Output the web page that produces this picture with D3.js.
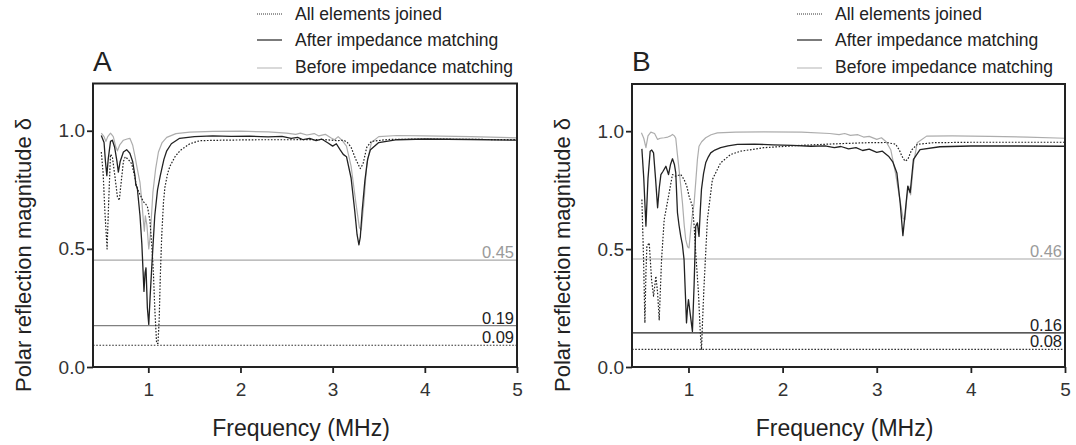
<!DOCTYPE html>
<html><head><meta charset="utf-8">
<script src="https://cdn.jsdelivr.net/npm/d3@7"></script>
<style>
html,body{margin:0;padding:0;background:#fff;}
svg{display:block;font-family:"Liberation Sans",Arial,Helvetica,sans-serif;}
</style></head>
<body><svg id="chart" width="1076" height="445"></svg>
<script>
// ---------- DATA ----------
const xTicks = [1, 2, 3, 4, 5];
const yTicks = [0, 0.5, 1.0];
const legendLabels = ["All elements joined", "After impedance matching", "Before impedance matching"];
const panelLetters = ["A", "B"];
const xTitle = "Frequency (MHz)";
const yTitle = "Polar reflection magnitude δ";

// Panel A series: [frequency MHz, magnitude]
const A_before = [[0.49,0.99],[0.52,0.975],[0.54,0.955],[0.56,0.975],[0.59,0.99],[0.62,0.975],[0.645,0.935],[0.665,0.915],[0.69,0.94],[0.73,0.96],[0.77,0.965],[0.80,0.968],[0.83,0.94],[0.856,0.89],[0.88,0.84],[0.91,0.78],[0.93,0.70],[0.946,0.62],[0.957,0.575],[0.968,0.64],[0.985,0.60],[1.005,0.50],[1.02,0.55],[1.05,0.74],[1.08,0.84],[1.11,0.91],[1.15,0.95],[1.2,0.972],[1.3,0.988],[1.45,0.994],[1.7,0.997],[2.0,0.998],[2.3,0.995],[2.5,0.99],[2.6,0.985],[2.65,0.99],[2.72,0.982],[2.8,0.988],[2.85,0.978],[2.92,0.985],[2.98,0.97],[3.02,0.962],[3.06,0.975],[3.1,0.96],[3.15,0.935],[3.2,0.85],[3.25,0.70],[3.29,0.59],[3.31,0.58],[3.34,0.70],[3.37,0.86],[3.42,0.95],[3.5,0.975],[3.7,0.98],[4.0,0.978],[4.5,0.975],[5.0,0.97]];
const A_after = [[0.49,0.98],[0.52,0.95],[0.535,0.87],[0.55,0.81],[0.565,0.88],[0.59,0.955],[0.61,0.96],[0.635,0.93],[0.66,0.87],[0.675,0.825],[0.695,0.87],[0.73,0.91],[0.765,0.92],[0.80,0.905],[0.83,0.87],[0.855,0.81],[0.865,0.77],[0.88,0.76],[0.91,0.64],[0.93,0.52],[0.953,0.32],[0.965,0.40],[0.975,0.42],[0.99,0.25],[1.005,0.18],[1.02,0.30],[1.04,0.44],[1.07,0.64],[1.10,0.75],[1.13,0.81],[1.17,0.88],[1.2,0.915],[1.25,0.945],[1.34,0.968],[1.5,0.975],[1.7,0.978],[1.9,0.976],[2.1,0.977],[2.3,0.974],[2.45,0.976],[2.55,0.968],[2.62,0.972],[2.68,0.962],[2.75,0.968],[2.82,0.958],[2.88,0.965],[2.95,0.948],[3.0,0.935],[3.04,0.945],[3.08,0.92],[3.115,0.90],[3.15,0.89],[3.2,0.80],[3.24,0.66],[3.265,0.56],[3.285,0.517],[3.30,0.55],[3.32,0.66],[3.35,0.79],[3.38,0.88],[3.41,0.92],[3.5,0.95],[3.7,0.962],[4.0,0.965],[4.5,0.963],[5.0,0.96]];
const A_joined = [[0.49,0.91],[0.51,0.82],[0.53,0.65],[0.553,0.50],[0.57,0.70],[0.59,0.90],[0.61,0.89],[0.64,0.80],[0.665,0.72],[0.685,0.705],[0.705,0.78],[0.73,0.87],[0.75,0.89],[0.78,0.88],[0.82,0.86],[0.85,0.81],[0.875,0.76],[0.91,0.73],[0.946,0.70],[0.97,0.69],[0.99,0.68],[1.018,0.62],[1.04,0.50],[1.054,0.41],[1.07,0.25],[1.09,0.10],[1.105,0.10],[1.118,0.20],[1.13,0.38],[1.145,0.55],[1.165,0.70],[1.18,0.76],[1.21,0.82],[1.235,0.85],[1.29,0.89],[1.344,0.916],[1.45,0.945],[1.56,0.958],[1.8,0.96],[2.2,0.962],[2.6,0.962],[2.9,0.963],[3.05,0.958],[3.12,0.96],[3.16,0.95],[3.2,0.93],[3.25,0.88],[3.30,0.84],[3.33,0.86],[3.37,0.93],[3.42,0.955],[3.6,0.963],[4.0,0.965],[5.0,0.962]];
// Panel A reference lines: drawn position, label text
const A_refValues = [0.452, 0.175, 0.092];
const A_refLabels = ["0.45", "0.19", "0.09"];

// Panel B series
const B_before = [[0.50,0.993],[0.525,0.97],[0.548,0.93],[0.57,0.98],[0.60,0.996],[0.64,0.99],[0.672,0.965],[0.70,0.97],[0.743,0.972],[0.78,0.975],[0.81,0.98],[0.83,0.986],[0.85,0.98],[0.865,0.97],[0.88,0.91],[0.90,0.837],[0.92,0.76],[0.936,0.696],[0.955,0.60],[0.971,0.54],[0.99,0.51],[1.006,0.505],[1.024,0.583],[1.04,0.64],[1.06,0.696],[1.08,0.80],[1.095,0.88],[1.112,0.936],[1.14,0.955],[1.183,0.972],[1.24,0.985],[1.307,0.993],[1.5,0.996],[1.8,0.997],[2.2,0.996],[2.5,0.99],[2.6,0.985],[2.66,0.99],[2.72,0.982],[2.8,0.985],[2.86,0.975],[2.92,0.978],[3.0,0.965],[3.05,0.972],[3.1,0.955],[3.15,0.92],[3.2,0.82],[3.25,0.70],[3.28,0.63],[3.30,0.625],[3.32,0.72],[3.34,0.767],[3.36,0.73],[3.39,0.86],[3.43,0.951],[3.53,0.979],[3.8,0.98],[4.2,0.978],[4.6,0.975],[5.0,0.97]];
const B_after = [[0.505,0.925],[0.525,0.80],[0.548,0.597],[0.57,0.80],[0.593,0.915],[0.61,0.92],[0.629,0.908],[0.65,0.80],[0.672,0.675],[0.69,0.76],[0.707,0.816],[0.73,0.83],[0.76,0.851],[0.788,0.816],[0.81,0.86],[0.83,0.883],[0.85,0.86],[0.865,0.823],[0.883,0.654],[0.90,0.60],[0.918,0.554],[0.935,0.52],[0.953,0.455],[0.966,0.32],[0.979,0.187],[0.99,0.25],[1.0,0.286],[1.02,0.22],[1.042,0.151],[1.06,0.35],[1.077,0.597],[1.095,0.611],[1.112,0.554],[1.125,0.66],[1.138,0.753],[1.16,0.82],[1.183,0.866],[1.21,0.89],[1.236,0.908],[1.28,0.92],[1.342,0.93],[1.42,0.938],[1.52,0.944],[1.7,0.945],[1.9,0.942],[2.1,0.94],[2.3,0.936],[2.45,0.938],[2.55,0.93],[2.62,0.935],[2.7,0.925],[2.78,0.93],[2.85,0.918],[2.92,0.924],[3.0,0.91],[3.06,0.915],[3.125,0.894],[3.17,0.87],[3.214,0.823],[3.249,0.696],[3.278,0.557],[3.309,0.682],[3.33,0.767],[3.355,0.739],[3.39,0.88],[3.46,0.922],[3.67,0.934],[4.0,0.937],[4.5,0.937],[5.0,0.936]];
const B_joined = [[0.505,0.71],[0.523,0.455],[0.537,0.187],[0.548,0.40],[0.558,0.512],[0.583,0.526],[0.608,0.37],[0.629,0.30],[0.654,0.385],[0.672,0.314],[0.689,0.20],[0.714,0.455],[0.742,0.625],[0.795,0.739],[0.83,0.816],[0.865,0.809],[0.918,0.816],[0.953,0.795],[0.982,0.767],[1.006,0.724],[1.042,0.682],[1.06,0.60],[1.077,0.484],[1.106,0.314],[1.125,0.15],[1.138,0.073],[1.15,0.20],[1.165,0.342],[1.201,0.625],[1.254,0.795],[1.342,0.866],[1.448,0.901],[1.554,0.915],[1.8,0.93],[2.2,0.94],[2.6,0.947],[2.9,0.951],[3.1,0.952],[3.2,0.945],[3.24,0.92],[3.267,0.894],[3.30,0.873],[3.33,0.88],[3.37,0.92],[3.43,0.944],[3.6,0.951],[4.0,0.953],[5.0,0.953]];
const B_refValues = [0.458, 0.145, 0.075];
const B_refLabels = ["0.46", "0.16", "0.08"];

// ---------- STYLE ----------
const styles = {
  joined: {stroke: "#222", width: 1.2, dash: "1.6,1.6"},
  after:  {stroke: "#222", width: 1.3, dash: null},
  before: {stroke: "#adadad", width: 1.2, dash: null}
};
const refStyleA = [
  {stroke: "#a8a8a8", dash: null, text: "#9a9a9a"},
  {stroke: "#808080", dash: null, text: "#222"},
  {stroke: "#333", dash: "1.6,1.6", text: "#222"}
];
const refStyleB = [
  {stroke: "#a8a8a8", dash: null, text: "#9a9a9a"},
  {stroke: "#222", dash: null, text: "#222"},
  {stroke: "#333", dash: "1.6,1.6", text: "#222"}
];

const svg = d3.select("#chart");

function drawPanel(p) {
  const x = d3.scaleLinear().domain([0.4, 5]).range([p.left, p.right]);
  const y = d3.scaleLinear().domain([0, 1.2]).range([p.bottom, p.top]);
  const g = svg.append("g");
  const clipId = "clip" + p.letter;
  svg.append("defs").append("clipPath").attr("id", clipId)
    .append("rect").attr("x", p.left).attr("y", p.top)
    .attr("width", p.right - p.left).attr("height", p.bottom - p.top);

  // reference lines
  p.refValues.forEach((v, i) => {
    const st = p.refStyle[i];
    g.append("line").attr("x1", p.left).attr("x2", p.right)
      .attr("y1", y(v)).attr("y2", y(v))
      .attr("stroke", st.stroke).attr("stroke-width", 1.2)
      .attr("stroke-dasharray", st.dash);
    g.append("text").attr("x", p.right - 3).attr("y", y(v) - 2)
      .attr("text-anchor", "end").attr("font-size", 16.5)
      .attr("fill", st.text).text(p.refLabels[i]);
  });

  const line = d3.line().x(d => x(d[0])).y(d => y(d[1]));
  const cg = g.append("g").attr("clip-path", `url(#${clipId})`);
  [["before", p.before], ["joined", p.joined], ["after", p.after]].forEach(([k, data]) => {
    const st = styles[k];
    cg.append("path").datum(data).attr("d", line)
      .attr("fill", "none").attr("stroke", st.stroke)
      .attr("stroke-width", st.width).attr("stroke-dasharray", st.dash)
      .attr("stroke-linejoin", "round");
  });

  // axes
  const xa = g.append("g").attr("transform", `translate(0,${p.bottom})`)
    .call(d3.axisBottom(x).tickValues(xTicks).tickFormat(d3.format("d")).tickSize(6).tickPadding(10));
  const ya = g.append("g").attr("transform", `translate(${p.left},0)`)
    .call(d3.axisLeft(y).tickValues(yTicks).tickFormat(d3.format(".1f")).tickSize(6).tickPadding(2));
  [xa, ya].forEach(a => {
    a.select(".domain").remove();
    a.selectAll("line").attr("stroke", "#222").attr("stroke-width", 1.8);
    a.selectAll("text").attr("font-size", 19).attr("fill", "#333")
      .attr("font-family", "'Liberation Sans',Arial,sans-serif");
  });

  // frame
  g.append("rect").attr("x", p.left).attr("y", p.top)
    .attr("width", p.right - p.left).attr("height", p.bottom - p.top)
    .attr("fill", "none").attr("stroke", "#222").attr("stroke-width", 2);

  // titles
  g.append("text").attr("x", (p.left + p.right) / 2 - 4).attr("y", 436)
    .attr("text-anchor", "middle").attr("font-size", 23).attr("fill", "#222").text(xTitle);
  g.append("text").attr("transform", `translate(${p.left - 62},255) rotate(-90)`)
    .attr("text-anchor", "middle").attr("font-size", 22).attr("fill", "#222").text(yTitle);
  g.append("text").attr("x", p.left).attr("y", 71)
    .attr("font-size", 28).attr("fill", "#222").text(p.letter);

  // legend
  const legKeys = ["joined", "after", "before"];
  const legY = [14, 40, 68];
  const legBase = [19.5, 45.5, 73];
  legKeys.forEach((k, i) => {
    g.append("line").attr("x1", p.legX).attr("x2", p.legX + 25)
      .attr("y1", legY[i]).attr("y2", legY[i])
      .attr("stroke", k === "before" ? "#c4c4c4" : "#333")
      .attr("stroke-width", k === "joined" ? 1 : 1.3)
      .attr("stroke-dasharray", k === "joined" ? "1,1" : null);
    g.append("text").attr("x", p.legX + 38).attr("y", legBase[i])
      .attr("font-size", 17.5).attr("fill", "#222").text(legendLabels[i]);
  });
}

drawPanel({letter: panelLetters[0], left: 93, right: 517, top: 83.5, bottom: 367,
  before: A_before, after: A_after, joined: A_joined,
  refValues: A_refValues, refLabels: A_refLabels, refStyle: refStyleA, legX: 257});
drawPanel({letter: panelLetters[1], left: 632, right: 1065, top: 84, bottom: 367,
  before: B_before, after: B_after, joined: B_joined,
  refValues: B_refValues, refLabels: B_refLabels, refStyle: refStyleB, legX: 797});
</script></body></html>
